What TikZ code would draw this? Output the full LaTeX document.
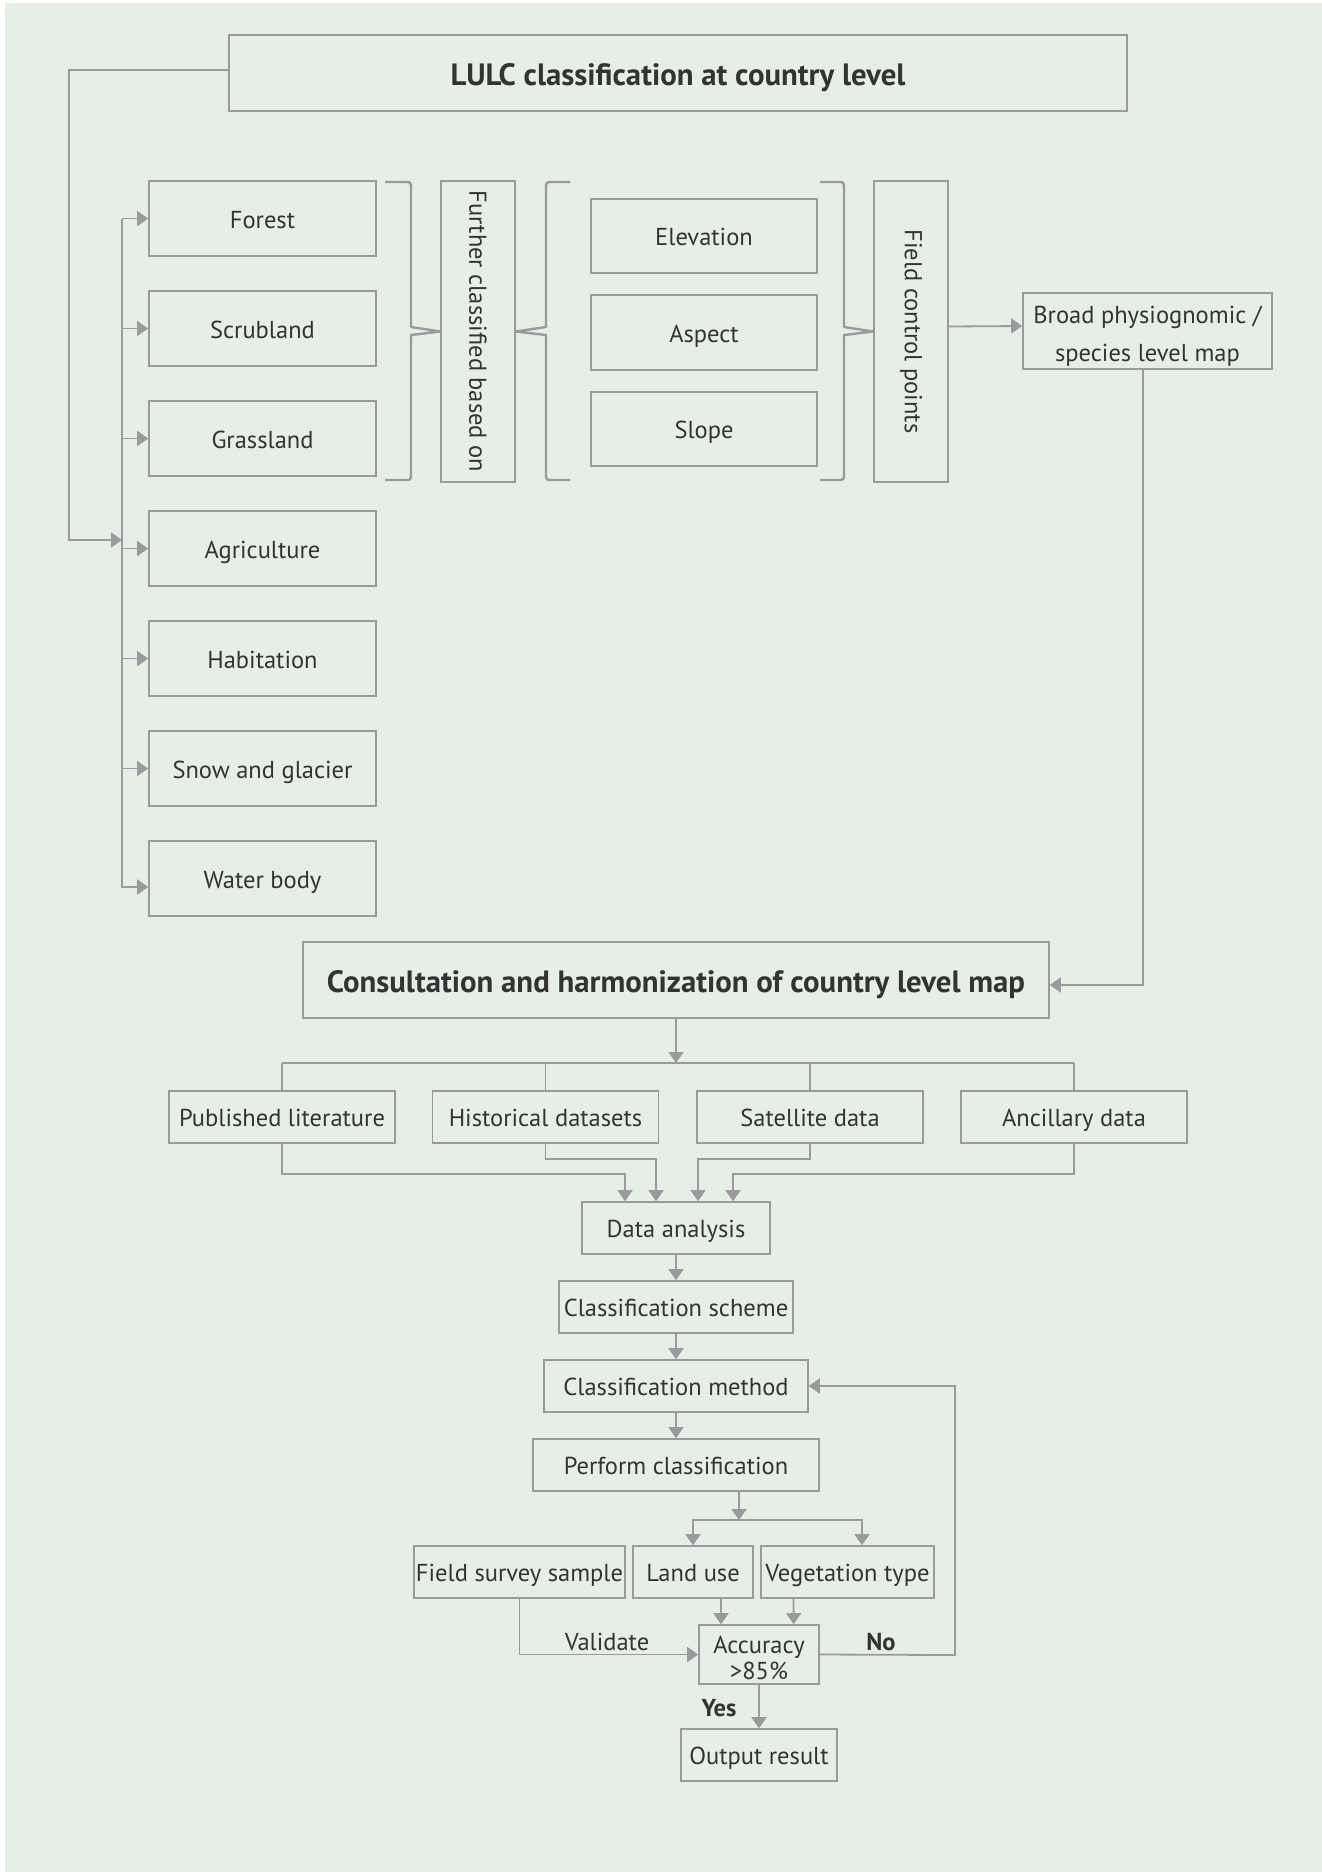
\documentclass[tikz,border=0pt]{standalone}
\usepackage{fontspec}
\setmainfont{PT Sans}
\usetikzlibrary{arrows.meta}
\definecolor{bg}{HTML}{E5EFE6}
\definecolor{lnc}{HTML}{9A9A9E}
\definecolor{tx}{HTML}{333333}
\newcommand\nrmfs{\fontsize{24.5}{29}\selectfont}
\newcommand\ttlfs{\fontsize{30.8}{36}\selectfont\bfseries}
\begin{document}
\begin{tikzpicture}[x=1pt,y=-1pt,
  ln/.style={draw=lnc, line width=1.8pt},
  arr/.style={ln, -{Triangle[length=11pt,width=15pt]}},
  mbox/.style={draw=lnc, line width=1.6pt, text=tx, inner sep=0pt, align=center, font=\nrmfs},
  box/.style={mbox, text height=24.5pt, text depth=4.9pt},
  tbox/.style={mbox, font=\ttlfs, text height=30pt, text depth=6pt},
  wh/.style 2 args={minimum width=#1pt, minimum height=#2pt},
  brace/.style={draw=lnc, line width=2.4pt, line join=round},
  lbl/.style={text=tx, inner sep=0pt, font=\nrmfs, text height=24.5pt, text depth=4.9pt},
]
\useasboundingbox (0,0) rectangle (1322,1872);
\fill[white] (0,0) rectangle (1322,1872);
\fill[bg] (5,3) rectangle (1322,1872);

% top title
\node[tbox, wh={898}{76}] (lulc) at (678,73) {LULC classification at country level};

% land cover classes
\node[box, wh={227}{75}] (forest) at (262.5,218.5) {Forest};
\node[box, wh={227}{75}] (scrub) at (262.5,328.5) {Scrubland};
\node[box, wh={227}{75}] (grass) at (262.5,438.5) {Grassland};
\node[box, wh={227}{75}] (agri) at (262.5,548.5) {Agriculture};
\node[box, wh={227}{75}] (habit) at (262.5,658.5) {Habitation};
\node[box, wh={227}{75}] (snow) at (262.5,768.5) {Snow and glacier};
\node[box, wh={227}{75}] (water) at (262.5,878.5) {Water body};

% further classification
\node[mbox, wh={74}{301}] (further) at (478,331.5) {\rotatebox{-90}{Further classified based on}};
\node[box, wh={226}{74}] (elev) at (704,236) {Elevation};
\node[box, wh={226}{75}] (aspect) at (704,332.5) {Aspect};
\node[box, wh={226}{74}] (slope) at (704,429) {Slope};
\node[mbox, wh={74}{301}] (field) at (911,331.5) {\rotatebox{-90}{Field control points}};
\node[mbox, wh={249}{76}] (broad) at (1147.5,331) {\rule{0pt}{27pt}Broad physiognomic /\\[9pt]species level map};

% consultation
\node[tbox, wh={746}{76}] (consult) at (676,980) {Consultation and harmonization of country level map};
\node[box, wh={226}{52}] (pub) at (282,1117) {Published literature};
\node[box, wh={226}{52}] (hist) at (545.5,1117) {Historical datasets};
\node[box, wh={226}{52}] (sat) at (810,1117) {Satellite data};
\node[box, wh={226}{52}] (anc) at (1074,1117) {Ancillary data};

\node[box, wh={188}{52}] (data) at (676,1228) {Data analysis};
\node[box, wh={234}{52}] (scheme) at (676,1307) {Classification scheme};
\node[box, wh={264}{52}] (method) at (676,1386) {Classification method};
\node[box, wh={286}{52}] (perform) at (676,1465) {Perform classification};

\node[box, wh={211}{52}] (fss) at (519.5,1572) {Field survey sample};
\node[box, wh={120}{52}] (landuse) at (693,1572) {Land use};
\node[box, wh={173}{52}] (veg) at (847.5,1572) {Vegetation type};
\node[mbox, wh={120}{59}, font=\fontsize{24.5}{26}\selectfont] (acc) at (759,1654.5) {\rule{0pt}{24pt}Accuracy\\>85\%};
\node[box, wh={156}{52}] (out) at (759,1755) {Output result};

\node[lbl] (val) at (607,1641) {Validate};
\node[lbl, font=\nrmfs\bfseries] (no) at (881,1641) {No};
\node[lbl, font=\nrmfs\bfseries] (yes) at (719,1707) {Yes};

% coordinates
\coordinate (oloop) at (69,540);
\coordinate (bj) at (122,540);
\coordinate (bus) at (122,0);
\coordinate (hbus) at (676,1063);
\coordinate (b1) at (625,1174);
\coordinate (b2) at (656,1159);
\coordinate (b3) at (698,1159);
\coordinate (b4) at (733,1174);
\coordinate (da1) at ([xshift=-51pt]data.north);
\coordinate (da2) at ([xshift=-20pt]data.north);
\coordinate (da3) at ([xshift=22pt]data.north);
\coordinate (da4) at ([xshift=57pt]data.north);
\coordinate (pb) at (739,1520);
\coordinate (nob) at (955,1655);

% left bus
\draw[arr] ([yshift=3pt]lulc.west) -| (oloop) -- (bj);
\draw[arr] (forest.west -| bus) -- (forest.west);
\draw[arr] (forest.west -| bus) |- ([yshift=-8.5pt]water.west);
\draw[arr] (scrub.west -| bus) -- (scrub.west);
\draw[arr] (grass.west -| bus) -- (grass.west);
\draw[arr] (agri.west -| bus) -- (agri.west);
\draw[arr] (habit.west -| bus) -- (habit.west);
\draw[arr] (snow.west -| bus) -- (snow.west);

% braces
\draw[brace] (385,182) -- (404,182) .. controls (411,182) .. (411,189) -- (411,327) -- (further.west) -- (411,335) -- (411,473) .. controls (411,480) .. (404,480) -- (385,480);
\draw[brace] (570,182) -- (553,182) .. controls (546,182) .. (546,189) -- (546,327) -- (further.east) -- (546,335) -- (546,473) .. controls (546,480) .. (553,480) -- (570,480);
\draw[brace] (820,182) -- (837,182) .. controls (844,182) .. (844,189) -- (844,327) -- (field.west) -- (844,335) -- (844,473) .. controls (844,480) .. (837,480) -- (820,480);

\draw[arr] ([yshift=5pt]field.east) -- ([yshift=5pt]broad.west);
\draw[arr] ([xshift=-4.5pt]broad.south) |- ([yshift=-5pt]consult.east);

% consultation to sources
\draw[arr] (consult.south) -- (hbus);
\draw[ln] (pub.north |- hbus) -- (anc.north |- hbus);
\draw[ln] (pub.north |- hbus) -- (pub.north);
\draw[ln] (hist.north |- hbus) -- (hist.north);
\draw[ln] (sat.north |- hbus) -- (sat.north);
\draw[ln] (anc.north |- hbus) -- (anc.north);

\draw[arr] (pub.south) |- (b1) -- (da1);
\draw[arr] (hist.south) |- (b2) -- (da2);
\draw[arr] (sat.south) |- (b3) -- (da3);
\draw[arr] (anc.south) |- (b4) -- (da4);

\draw[arr] (data.south) -- (scheme.north);
\draw[arr] (scheme.south) -- (method.north);
\draw[arr] (method.south) -- (perform.north);
\draw[arr] ([xshift=63pt]perform.south) -- (pb);
\draw[arr] (pb) -| (landuse.north);
\draw[arr] (pb) -| ([xshift=14.5pt]veg.north);
\draw[arr] ([xshift=28pt]landuse.south) -- ([xshift=-38pt]acc.north);
\draw[arr] ([xshift=-54pt]veg.south) -- ([xshift=34.7pt]acc.north);
\draw[arr] (fss.south) |- (acc.west);
\draw[arr] (acc.east) -- (nob) |- (method.east);
\draw[arr] (acc.south) -- (out.north);
\end{tikzpicture}
\end{document}
